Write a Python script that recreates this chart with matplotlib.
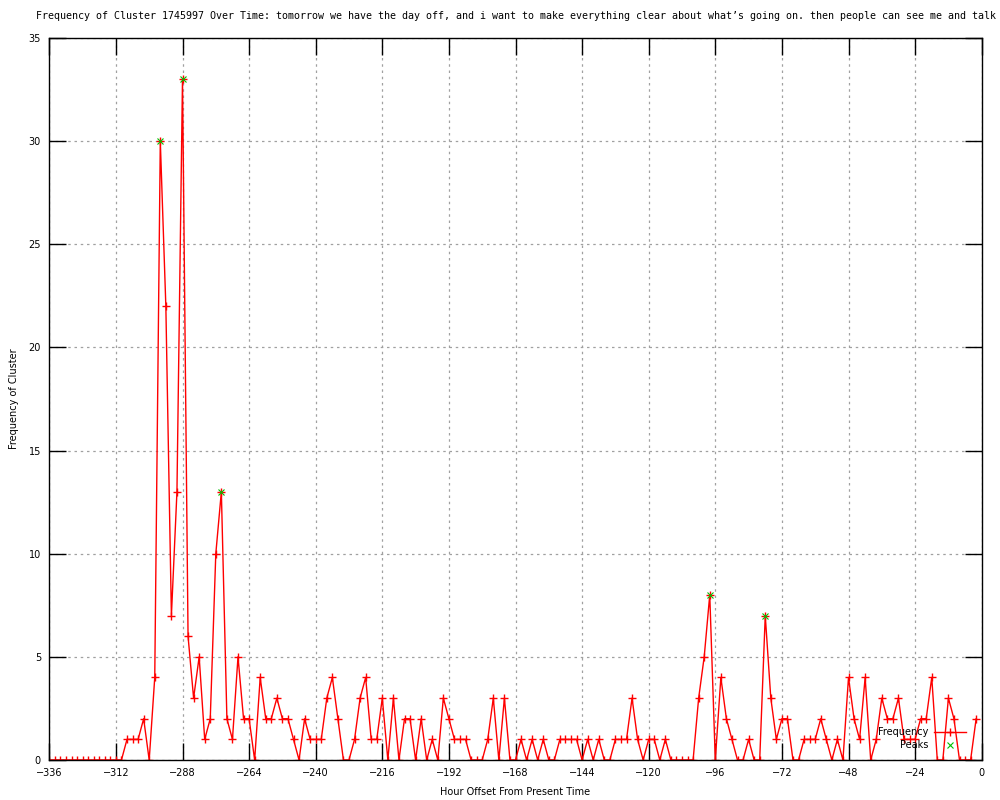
import numpy as np
import matplotlib
matplotlib.use('Agg')
import matplotlib.pyplot as plt

# hours before present, one sample every 2 hours
hours = np.arange(-336, 0, 2)
freq = [0, 0, 0, 0, 0, 0, 0, 0, 0, 0, 0, 0, 0, 0,
        1, 1, 1, 2, 0, 4, 30, 22, 7, 13, 33, 6, 3, 5, 1, 2,
        10, 13, 2, 1, 5, 2, 2, 0, 4, 2, 2, 3, 2, 2, 1, 0,
        2, 1, 1, 1, 3, 4, 2, 0, 0, 1, 3, 4, 1, 1, 3, 0,
        3, 0, 2, 2, 0, 2, 0, 1, 0, 3, 2, 1, 1, 1, 0, 0,
        0, 1, 3, 0, 3, 0, 0, 1, 0, 1, 0, 1, 0, 0, 1, 1,
        1, 1, 0, 1, 0, 1, 0, 0, 1, 1, 1, 3, 1, 0, 1, 1,
        0, 1, 0, 0, 0, 0, 0, 3, 5, 8, 0, 4, 2, 1, 0, 0,
        1, 0, 0, 7, 3, 1, 2, 2, 0, 0, 1, 1, 1, 2, 1, 0,
        1, 0, 4, 2, 1, 4, 0, 1, 3, 2, 2, 3, 1, 1, 1, 2,
        2, 4, 0, 0, 3, 2, 0, 0, 0, 2]

peak_hours = [-296, -288, -274, -98, -78]
peak_vals = [30, 33, 13, 8, 7]

xticks = list(range(-336, 1, 24))
yticks = list(range(0, 36, 5))

title = ("Frequency of Cluster 1745997 Over Time: tomorrow we have the day off, "
         "and i want to make everything clear about what\u2019s going on. "
         "then people can see me and talk")

fig = plt.figure(figsize=(10, 8), dpi=100)
ax = fig.add_axes([0.0493, 0.05, 0.9324, 0.9025])

ax.plot(hours, freq, color='red', lw=1, marker='+', ms=6, mew=1,
        label='Frequency')
ax.plot(peak_hours, peak_vals, ls='none', color='#00c000', marker='x',
        ms=4, mew=0.8, label='Peaks')

ax.set_xlim(-336, 0)
ax.set_ylim(0, 35)
ax.set_xticks(xticks)
ax.set_yticks(yticks)
ax.grid(True, color='#a0a0a0', ls=(0, (2, 3)), lw=0.9)
ax.tick_params(direction='in', length=12, width=1, top=True, right=True,
               labelsize=7, pad=6)
for s in ax.spines.values():
    s.set_linewidth(1)

ax.set_title(title, family='DejaVu Sans Mono', fontsize=7.2, pad=14)
ax.set_xlabel('Hour Offset From Present Time', fontsize=7, labelpad=6)
ax.set_ylabel('Frequency of Cluster', fontsize=7, labelpad=7)

leg = ax.legend(loc='lower right', frameon=False, markerfirst=False,
                fontsize=7, handlelength=3.3, handletextpad=0.5,
                labelspacing=0.3, borderaxespad=0,
                bbox_to_anchor=(1 - 12 / 932, 6 / 722))

fig.savefig('out.png')
